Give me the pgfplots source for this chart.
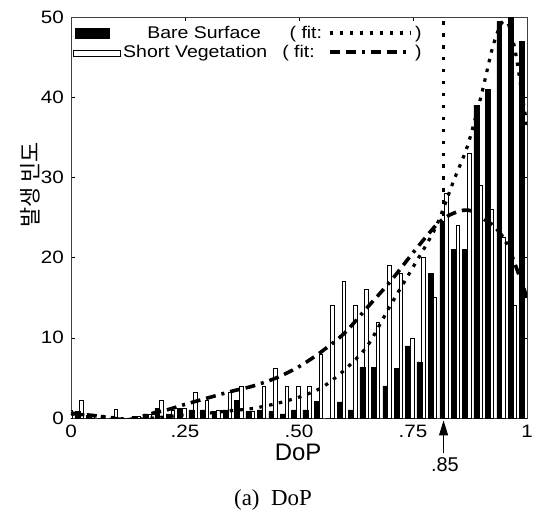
\documentclass[border=0pt]{standalone}
\usepackage{fontspec}
\setmainfont{Liberation Sans}[FakeStretch=1.15]
\newfontfamily\plainsans{Liberation Sans}
\newfontfamily\capserif{Liberation Serif}
\newfontfamily\kr{Noto Sans CJK KR}
\usepackage{pgfplots}
\pgfplotsset{compat=1.18}
\usepackage{pgfplotstable}
\usetikzlibrary{arrows.meta}

% x = bin centre, B = Bare Surface, W = Short Vegetation
\pgfplotstableread{
x B W
0.000 0.8 1.0
0.025 0.8 2.2
0.050 0.3 0.3
0.075 0.0 0.0
0.100 0.0 1.1
0.125 0.0 0.0
0.150 0.2 0.2
0.175 0.5 0.5
0.200 1.2 2.2
0.225 0.5 1.0
0.250 1.2 1.2
0.275 1.0 3.2
0.300 1.0 2.2
0.325 0.8 1.0
0.350 1.0 3.2
0.375 2.2 4.0
0.400 0.8 0.8
0.425 1.0 4.0
0.450 0.8 6.2
0.475 0.5 4.0
0.500 1.0 4.0
0.525 1.0 4.0
0.550 2.1 8.0
0.575 0.0 14.0
0.600 2.0 17.0
0.625 1.0 14.0
0.650 6.3 16.0
0.675 6.3 12.0
0.700 4.0 19.0
0.725 6.2 18.0
0.750 9.0 10.0
0.775 7.0 20.0
0.800 18.0 15.0
0.825 24.5 28.0
0.850 21.0 24.0
0.875 21.0 33.0
0.900 39.0 29.0
0.925 41.0 26.0
0.950 49.5 22.5
0.975 50.0 14.0
1.000 47.0 0.0
}\dophist

\pgfplotstableread{
x y
0.00 0.5
0.05 0.3
0.10 0.0
0.13 -0.2
0.16 -0.1
0.20 0.1
0.25 0.4
0.30 0.6
0.35 0.9
0.40 1.2
0.45 1.8
0.50 2.6
0.55 3.8
0.60 6.0
0.65 9.0
0.70 14.0
0.75 18.8
0.80 23.8
0.84 29.7
0.87 34.0
0.90 40.3
0.925 46.3
0.945 49.3
0.96 49.0
0.975 45.5
0.99 40.0
1.00 36.5
}\bsfit

\pgfplotstableread{
x y
0.00 0.6
0.05 0.3
0.09 0.0
0.12 -0.25
0.15 0.1
0.18 0.6
0.21 1.0
0.25 1.7
0.30 2.5
0.35 3.3
0.40 4.0
0.45 5.0
0.50 6.4
0.55 8.3
0.60 10.6
0.65 13.8
0.70 17.0
0.75 20.6
0.80 24.0
0.83 25.3
0.86 25.9
0.88 25.8
0.90 25.0
0.93 23.8
0.955 21.8
0.975 19.0
1.00 15.0
}\svfit

\tikzset{
  fitdot/.style={line width=3.2pt, line cap=butt, dash pattern=on 3.5pt off 6.5pt},
  fitdashdot/.style={line width=3.6pt, line cap=butt, dash pattern=on 10pt off 6pt on 10pt off 6pt on 3pt off 6pt},
}

\begin{document}
\begin{tikzpicture}
\path[use as bounding box] (-71bp,-96bp) rectangle (469bp,418bp);
\begin{axis}[
  at={(0,0)}, anchor=south west,
  scale only axis, width=456bp, height=401bp,
  xmin=0, xmax=1, ymin=0, ymax=50,
  clip mode=individual,
  axis line style={black!75, line width=0.6pt},
  tick align=inside, tick pos=both,
  major tick length=4bp,
  tick style={black, line width=0.5pt},
  xtick={0,0.25,0.5,0.75,1},
  xticklabels={0,.25,.50,.75,1},
  ytick={0,10,20,30,40,50},
  /pgf/number format/assume math mode=true,
  ticklabel style={font=\fontsize{18}{20}\selectfont, inner sep=0pt},
  xticklabel style={yshift=-7bp},
  yticklabel style={xshift=-7bp},
]
% Short Vegetation (white bars)
\addplot[ybar, bar width=0.008, bar shift=0pt, fill=white, draw=black, line width=0.5pt]
  table[x expr=\thisrow{x}-0.002, y=W] {\dophist};
% Bare Surface (black bars)
\addplot[ybar, bar width=0.0105, bar shift=0pt, fill=black, draw=black, line width=0.3pt]
  table[x expr=\thisrow{x}-0.011, y=B] {\dophist};
% fits
\addplot[black, fitdashdot, smooth, tension=0.5] table[x=x, y=y] {\svfit};
\addplot[black, fitdot, smooth, tension=0.5] table[x=x, y=y] {\bsfit};

% threshold line (dotted)
\draw[black, line width=3.6pt, line cap=butt, dash pattern=on 3.6pt off 8.4pt] (axis cs:0.817,49.5) -- (axis cs:0.817,0.3);

% arrow and its label
\draw[black, line width=0.9pt, -{Triangle[length=15bp,width=9bp]}] (axis cs:0.817,-4.4) -- (axis cs:0.817,-0.3);
\node[anchor=north, inner sep=0pt, font=\plainsans\fontsize{20}{22}\selectfont, yshift=-39bp] at (axis cs:0.82,0) {.85};

% axis labels and caption
\node[anchor=north, inner sep=0pt, font=\plainsans\fontsize{24}{26}\selectfont, yshift=-26bp] at (axis description cs:0.498,0) {DoP};
\node[rotate=90, inner sep=0pt, font=\kr\fontsize{22}{24}\selectfont] at (axis description cs:-0.09,0.581) {발생 빈도};
\node[inner sep=0pt, font=\capserif\fontsize{23}{25}\selectfont] at (axis description cs:0.443,-0.204) {(a)\hspace{0.5em}DoP};

% legend
\fill[black] (axis cs:0.009,47.25) rectangle (axis cs:0.0855,48.65);
\draw[black, line width=0.5pt, fill=white] (axis cs:0.0044,45.05) rectangle (axis cs:0.107,45.85);
\node[anchor=base west, inner sep=0pt, font=\fontsize{17}{20}\selectfont] at (axis cs:0.167,47.35) {Bare Surface};
\node[anchor=base west, inner sep=0pt, font=\fontsize{17}{20}\selectfont] at (axis cs:0.479,47.35) {( fit:};
\draw[black, fitdot] (axis cs:0.568,48.0) -- (axis cs:0.745,48.0);
\node[anchor=base west, inner sep=0pt, font=\fontsize{17}{20}\selectfont] at (axis cs:0.754,47.35) {)};
\node[anchor=base west, inner sep=0pt, font=\fontsize{17}{20}\selectfont] at (axis cs:0.114,44.95) {Short Vegetation};
\node[anchor=base west, inner sep=0pt, font=\fontsize{17}{20}\selectfont] at (axis cs:0.463,44.95) {( fit:};
\draw[black, fitdashdot] (axis cs:0.568,45.6) -- (axis cs:0.745,45.6);
\node[anchor=base west, inner sep=0pt, font=\fontsize{17}{20}\selectfont] at (axis cs:0.754,44.95) {)};
\end{axis}
\end{tikzpicture}
\end{document}
